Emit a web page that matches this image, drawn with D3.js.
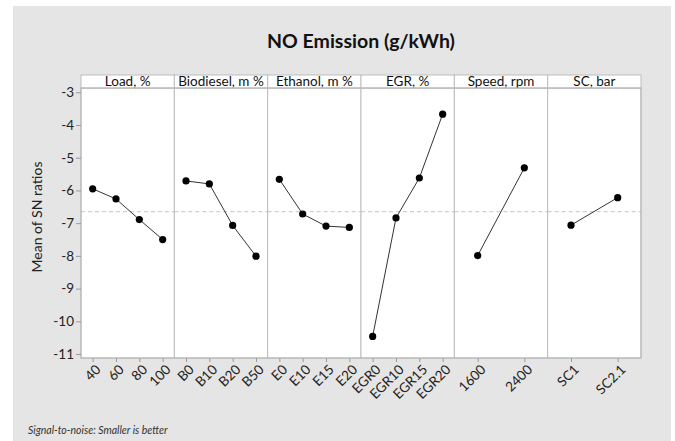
<!DOCTYPE html>
<html>
<head>
<meta charset="utf-8">
<script src="https://cdn.jsdelivr.net/npm/d3@7"></script>
<style>
  html, body { margin: 0; padding: 0; background: #ffffff; }
  svg { display: block; }
  text { font-family: Lato, "Open Sans", sans-serif; }
</style>
</head>
<body>
<svg id="chart" width="675" height="441"></svg>
<script>
// ---- data ----
const factors = ["Load, %", "Biodiesel, m %", "Ethanol, m %", "EGR, %", "Speed, rpm", "SC, bar"];
const loadLevels = ["40", "60", "80", "100"];
const loadValues = [-5.95, -6.26, -6.89, -7.50];
const biodieselLevels = ["B0", "B10", "B20", "B50"];
const biodieselValues = [-5.71, -5.80, -7.07, -8.01];
const ethanolLevels = ["E0", "E10", "E15", "E20"];
const ethanolValues = [-5.66, -6.72, -7.09, -7.13];
const egrLevels = ["EGR0", "EGR10", "EGR15", "EGR20"];
const egrValues = [-10.46, -6.84, -5.62, -3.67];
const speedLevels = ["1600", "2400"];
const speedValues = [-7.99, -5.31];
const scLevels = ["SC1", "SC2.1"];
const scValues = [-7.06, -6.22];
const yTicks = [-3, -4, -5, -6, -7, -8, -9, -10, -11];

const title = "NO Emission (g/kWh)";
const yLabel = "Mean of SN ratios";
const footnote = "Signal-to-noise: Smaller is better";

const panels = [
  { name: factors[0], levels: loadLevels, values: loadValues },
  { name: factors[1], levels: biodieselLevels, values: biodieselValues },
  { name: factors[2], levels: ethanolLevels, values: ethanolValues },
  { name: factors[3], levels: egrLevels, values: egrValues },
  { name: factors[4], levels: speedLevels, values: speedValues },
  { name: factors[5], levels: scLevels, values: scValues }
];
const grandMean = d3.mean(loadValues);

// ---- layout ----
const svg = d3.select("#chart");
const L = 81, R = 641, T = 88, B = 358, headerH = 13;

svg.append("rect").attr("x", 13).attr("y", 6).attr("width", 658).attr("height", 435)
  .attr("fill", "#e5e5e5");

const y = d3.scaleLinear().domain([-11.12, -2.87]).range([B, T]);
const xBand = d3.scaleBand().domain(factors).range([L, R]).paddingInner(0).paddingOuter(0);

// title
svg.append("text").attr("x", (L + R) / 2).attr("y", 48).attr("text-anchor", "middle")
  .attr("font-size", 19.5).attr("font-weight", 700).attr("fill", "#111").text(title);

// panels
const g = svg.append("g");
panels.forEach(p => {
  const x0 = xBand(p.name), w = xBand.bandwidth();
  const pg = g.append("g").attr("transform", `translate(${x0},0)`);
  pg.append("rect").attr("x", 0).attr("y", T).attr("width", w).attr("height", B - T)
    .attr("fill", "#fff").attr("stroke", "#bdbdbd").attr("stroke-width", 1);
  pg.append("rect").attr("x", 0).attr("y", T - headerH).attr("width", w).attr("height", headerH)
    .attr("fill", "#fff").attr("stroke", "#bdbdbd").attr("stroke-width", 1);
  pg.append("text").attr("x", w / 2).attr("y", T - 2.5).attr("text-anchor", "middle")
    .attr("font-size", 13.5).attr("fill", "#111").text(p.name);

  const xi = d3.scalePoint().domain(p.levels).range([0, w]).padding(0.5);

  pg.append("line").attr("x1", 0).attr("x2", w).attr("y1", y(grandMean)).attr("y2", y(grandMean))
    .attr("stroke", "#c4c4c4").attr("stroke-width", 1).attr("stroke-dasharray", "4,3");

  const pts = p.levels.map((l, i) => [xi(l), y(p.values[i])]);
  pg.append("path").attr("d", d3.line()(pts)).attr("fill", "none")
    .attr("stroke", "#333").attr("stroke-width", 1);
  pg.selectAll("circle.pt").data(pts).join("circle").attr("class", "pt")
    .attr("cx", d => d[0]).attr("cy", d => d[1]).attr("r", 3.6).attr("fill", "#000");

  const ax = pg.append("g").attr("transform", `translate(0,${B})`)
    .call(d3.axisBottom(xi).tickSize(4).tickSizeOuter(0));
  ax.select(".domain").remove();
  ax.selectAll(".tick line").attr("stroke", "#999");
  ax.selectAll(".tick text")
    .attr("font-size", 13.5).attr("fill", "#222").attr("font-family", "Lato, sans-serif")
    .attr("text-anchor", "end").attr("dy", "0.35em")
    .attr("transform", "translate(5,9) rotate(-45)")
    .attr("y", 0).attr("x", 0);
});

svg.append("rect").attr("x", L).attr("y", T).attr("width", R - L).attr("height", B - T)
  .attr("fill", "none").attr("stroke", "#b5b5b5").attr("stroke-width", 1);

const ay = svg.append("g").attr("transform", `translate(${L},0)`)
  .call(d3.axisLeft(y).tickValues(yTicks).tickFormat(d => String(d)).tickSize(5).tickSizeOuter(0));
ay.select(".domain").remove();
ay.selectAll(".tick line").attr("stroke", "#999");
ay.selectAll(".tick text").attr("font-size", 13.5).attr("fill", "#222")
  .attr("font-family", "Lato, sans-serif").attr("x", -7);

svg.append("text").attr("transform", `translate(42,${(T + B) / 2 - 6}) rotate(-90)`)
  .attr("text-anchor", "middle").attr("font-size", 14).attr("fill", "#222").text(yLabel);

svg.append("text").attr("x", 28).attr("y", 434).attr("font-size", 10.5).attr("font-style", "italic")
  .attr("fill", "#333").text(footnote);
</script>
</body>
</html>
